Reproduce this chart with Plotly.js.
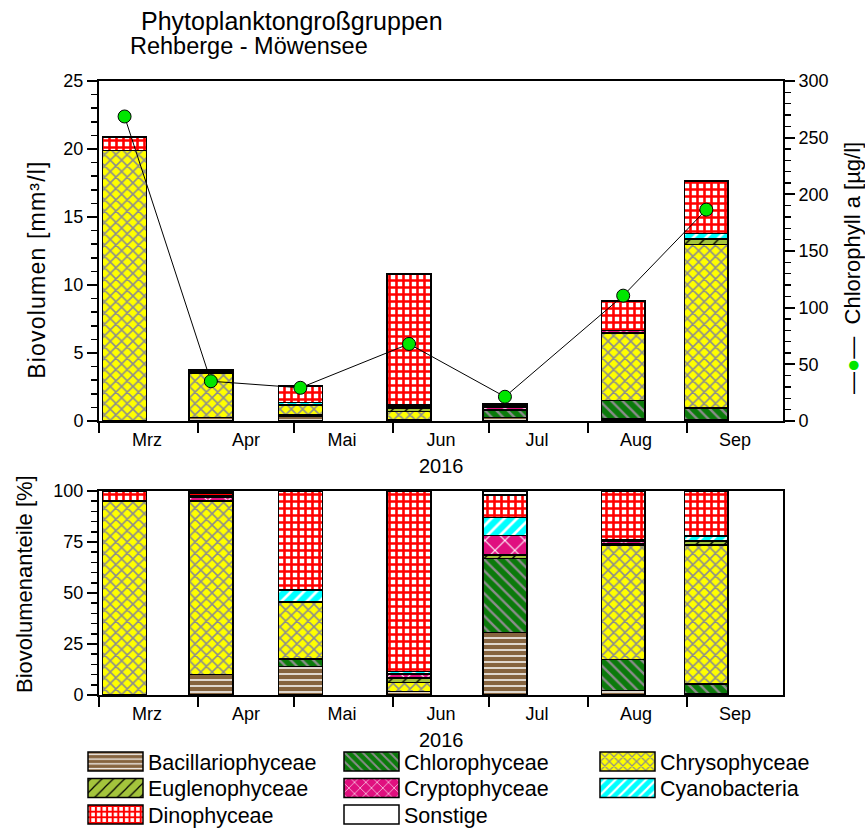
<!DOCTYPE html>
<html><head><meta charset="utf-8">
<script src="https://cdn.plot.ly/plotly-3.0.1.min.js"></script>
<style>html,body{margin:0;padding:0;background:#fff}#chart{width:865px;height:830px}</style>
</head><body><div id="chart"></div>
<script>
// ---- data ----
const sampleDates = ['2016-03-09','2016-04-05','2016-05-03','2016-06-06','2016-07-06','2016-08-12','2016-09-07'];
const monthStarts = ['2016-03-01','2016-04-01','2016-05-01','2016-06-01','2016-07-01','2016-08-01','2016-09-01'];
const monthMids   = ['2016-03-16','2016-04-16','2016-05-16','2016-06-16','2016-07-16','2016-08-16','2016-09-16'];
const monthLabels = ['Mrz','Apr','Mai','Jun','Jul','Aug','Sep'];
const groupNames = ['Bacillariophyceae','Chlorophyceae','Chrysophyceae','Euglenophyceae','Cryptophyceae','Cyanobacteria','Dinophyceae','Sonstige'];

// Biovolumen [mm³/l]
const bvBacillario = [0.05, 0.24, 0.37, 0.05, 0.27, 0.15, 0.10];
const bvChloro     = [0.00, 0.00, 0.08, 0.03, 0.54, 1.35, 0.86];
const bvChryso     = [19.85, 3.25, 0.72, 0.61, 0.00, 4.94, 12.00];
const bvEugleno    = [0.00, 0.05, 0.02, 0.25, 0.05, 0.05, 0.37];
const bvCrypto     = [0.00, 0.10, 0.03, 0.12, 0.12, 0.15, 0.05];
const bvCyano      = [0.00, 0.03, 0.15, 0.10, 0.11, 0.03, 0.42];
const bvDino       = [0.95, 0.08, 1.22, 9.62, 0.14, 2.13, 3.84];
const bvSonstige   = [0.05, 0.05, 0.00, 0.06, 0.02, 0.02, 0.04];

// Biovolumenanteile [%]
const pctBacillario = [0.0, 10.1, 13.9, 1.6, 30.7, 2.1, 0.8];
const pctChloro     = [0.0, 0.0, 3.7, 0.2, 36.3, 15.4, 4.6];
const pctChryso     = [95.2, 84.7, 28.1, 4.4, 0.0, 56.0, 68.1];
const pctEugleno    = [0.0, 0.3, 0.0, 2.2, 1.6, 0.5, 2.1];
const pctCrypto     = [0.0, 2.0, 0.0, 2.0, 9.5, 1.5, 0.0];
const pctCyano      = [0.0, 0.4, 5.8, 1.0, 9.0, 0.5, 2.3];
const pctDino       = [4.8, 1.5, 48.5, 88.6, 10.9, 23.7, 21.8];
const pctSonstige   = [0.0, 1.0, 0.0, 0.0, 2.0, 0.3, 0.3];

// Chlorophyll a [µg/l]
const chlA = [268.7, 35.1, 29.3, 68.0, 21.4, 110.6, 186.5];

// ---- styles ----
const bvSeries  = [bvBacillario, bvChloro, bvChryso, bvEugleno, bvCrypto, bvCyano, bvDino, bvSonstige];
const pctSeries = [pctBacillario, pctChloro, pctChryso, pctEugleno, pctCrypto, pctCyano, pctDino, pctSonstige];
const styles = [
  {bg:'#86643f', pat:{shape:'-', fgcolor:'#ffffff', size:6, solidity:0.25}},
  {bg:'#0b7a0b', pat:{shape:'\\', fgcolor:'#8c8c8c', size:8, solidity:0.3}},
  {bg:'#ffff00', pat:{shape:'x', fgcolor:'#8c8c8c', size:8, solidity:0.35}},
  {bg:'#a4c43c', pat:{shape:'/', fgcolor:'#000000', size:10, solidity:0.15}},
  {bg:'#e0107f', pat:{shape:'x', fgcolor:'#ffffff', size:14, solidity:0.15}},
  {bg:'#00ffff', pat:{shape:'/', fgcolor:'#ffffff', size:9, solidity:0.3}},
  {bg:'#ffffff', pat:{shape:'+', fgcolor:'#ff0000', size:7, solidity:0.6}},
  {bg:'#ffffff', pat:null}
];
const barWidthMs = 13.7 * 86400000;

const traces = [];
function barTrace(name, x, y, st, xa, ya, showLeg) {
  const marker = {color: st.bg, line:{color:'#000000', width:1.5}};
  if (st.pat) marker.pattern = Object.assign({bgcolor: st.bg, fillmode:'replace'}, st.pat);
  return {type:'bar', name:name, x:x, y:y, width:barWidthMs, marker:marker,
          xaxis:xa, yaxis:ya, showlegend:showLeg, legendgroup:name, hoverinfo:'skip'};
}
groupNames.forEach((n,i)=>traces.push(barTrace(n, sampleDates, bvSeries[i], styles[i], 'x', 'y', false)));
groupNames.forEach((n,i)=>traces.push(barTrace(n, sampleDates, pctSeries[i], styles[i], 'x2', 'y3', true)));
traces.push({type:'scatter', mode:'lines+markers', name:'Chlorophyll a', x:sampleDates, y:chlA,
  xaxis:'x', yaxis:'y2', showlegend:false,
  line:{color:'#000000', width:1},
  marker:{color:'#00e600', size:13, line:{color:'#000000', width:1}}});

const FONT = 'Liberation Sans, Arial, sans-serif';
function xAxis(anchor) {
  return {type:'date', range:['2016-03-01','2016-10-01'], anchor:anchor,
    tickmode:'array', tickvals:monthMids, ticktext:monthLabels, ticks:'',
    ticklabelstandoff:1, automargin:false,
    showline:true, linewidth:2, linecolor:'#000000', mirror:true,
    showgrid:false, zeroline:false, fixedrange:true,
    minor:{tickmode:'array', tickvals:monthStarts, ticks:'outside', ticklen:10, tickwidth:2, tickcolor:'#000000', showgrid:false}};
}
function yAxis(extra) {
  return Object.assign({ticks:'outside', ticklen:10, tickwidth:2, tickcolor:'#000000', automargin:false,
    showline:true, linewidth:2, linecolor:'#000000', showgrid:false, zeroline:false, fixedrange:true}, extra);
}
const plotL = 99, plotW = 684, plotT = 81, plotH = 614;
const px = v => (v - plotL) / plotW;
const py = v => (plotT + plotH - v) / plotH;

const layout = {
  width:865, height:830,
  margin:{l:99, r:82, t:81, b:135, autoexpand:false},
  paper_bgcolor:'#ffffff', plot_bgcolor:'rgba(0,0,0,0)',
  barmode:'stack',
  font:{family:FONT, size:18, color:'#000000'},
  xaxis: xAxis('y'),
  xaxis2: xAxis('y3'),
  yaxis: yAxis({domain:[py(421),1], range:[0,25], dtick:5, anchor:'x',
          minor:{dtick:1, ticks:'outside', ticklen:6, tickwidth:1.5, tickcolor:'#000000', showgrid:false}}),
  yaxis2: yAxis({overlaying:'y', side:'right', anchor:'x', range:[0,300], dtick:50,
          minor:{dtick:10, ticks:'outside', ticklen:6, tickwidth:1.5, tickcolor:'#000000', showgrid:false}}),
  yaxis3: yAxis({domain:[0,py(491)], range:[0,100], dtick:25, anchor:'x2', mirror:true,
          minor:{dtick:5, ticks:'outside', ticklen:6, tickwidth:1.5, tickcolor:'#000000', showgrid:false}}),
  legend:{orientation:'h', x:px(83), xanchor:'left', y:py(741), yanchor:'top',
          entrywidth:186, entrywidthmode:'pixels', itemwidth:55, traceorder:'normal',
          font:{size:21.5}, bgcolor:'rgba(0,0,0,0)'},
  showlegend:true,
  annotations:[
    {text:'Phytoplanktongroßgruppen', xref:'paper', yref:'paper', x:px(139), y:py(21), xanchor:'left', yanchor:'middle', showarrow:false, font:{size:25}},
    {text:'Rehberge - Möwensee', xref:'paper', yref:'paper', x:px(128), y:py(46), xanchor:'left', yanchor:'middle', showarrow:false, font:{size:23.5}},
    {text:'Biovolumen [mm³/l]', xref:'paper', yref:'paper', x:px(37), y:py(270), xanchor:'center', yanchor:'middle', textangle:-90, showarrow:false, font:{size:23}},
    {text:'Biovolumenanteile [%]', xref:'paper', yref:'paper', x:px(24), y:py(584), xanchor:'center', yanchor:'middle', textangle:-90, showarrow:false, font:{size:22}},
    {text:'—<span style="color:#00e600">●</span>—  Chlorophyll a [µg/l]', xref:'paper', yref:'paper', x:px(852), y:py(268), xanchor:'center', yanchor:'middle', textangle:-90, showarrow:false, font:{size:22}},
    {text:'2016', xref:'paper', yref:'paper', x:0.5, y:py(466), xanchor:'center', yanchor:'middle', showarrow:false, font:{size:20}},
    {text:'2016', xref:'paper', yref:'paper', x:0.5, y:py(740), xanchor:'center', yanchor:'middle', showarrow:false, font:{size:20}}
  ]
};

Plotly.newPlot('chart', traces, layout, {displayModeBar:false, staticPlot:true}).then(function(gd){
  gd.querySelectorAll('.legend .traces .legendpoints path').forEach(function(p){
    p.setAttribute('d', 'M-27.5,-9.5H27.5V9.5H-27.5Z');
  });
  // tighten legend row spacing to match the reference
  const items = Array.from(gd.querySelectorAll('.legend .traces'));
  const parse = t => { const m = /translate\(\s*([-\d.]+)[ ,]+([-\d.]+)\s*\)/.exec(t || ''); return m ? [parseFloat(m[1]), parseFloat(m[2])] : null; };
  const ys = [];
  items.forEach(it => { const p = parse(it.getAttribute('transform')); if (p && ys.indexOf(p[1]) < 0) ys.push(p[1]); });
  ys.sort((a,b)=>a-b);
  items.forEach(it => { const p = parse(it.getAttribute('transform')); if (!p) return;
    const r = ys.indexOf(p[1]); it.setAttribute('transform', 'translate(' + p[0] + ',' + (ys[0] + r * 26.5) + ')'); });
  // let the whole legend show (no scroll clipping)
  gd.querySelectorAll('.legend [clip-path]').forEach(el => el.removeAttribute('clip-path'));
  gd.querySelectorAll('.legend .scrollbar').forEach(el => el.style.display = 'none');
  // the reference's left axis title is set with wider spacing
  gd.querySelectorAll('.annotation-text').forEach(function(t){
    if (t.textContent.indexOf('Biovolumen [') === 0) t.style.letterSpacing = '1.2px';
  });
});
</script>
</body></html>
